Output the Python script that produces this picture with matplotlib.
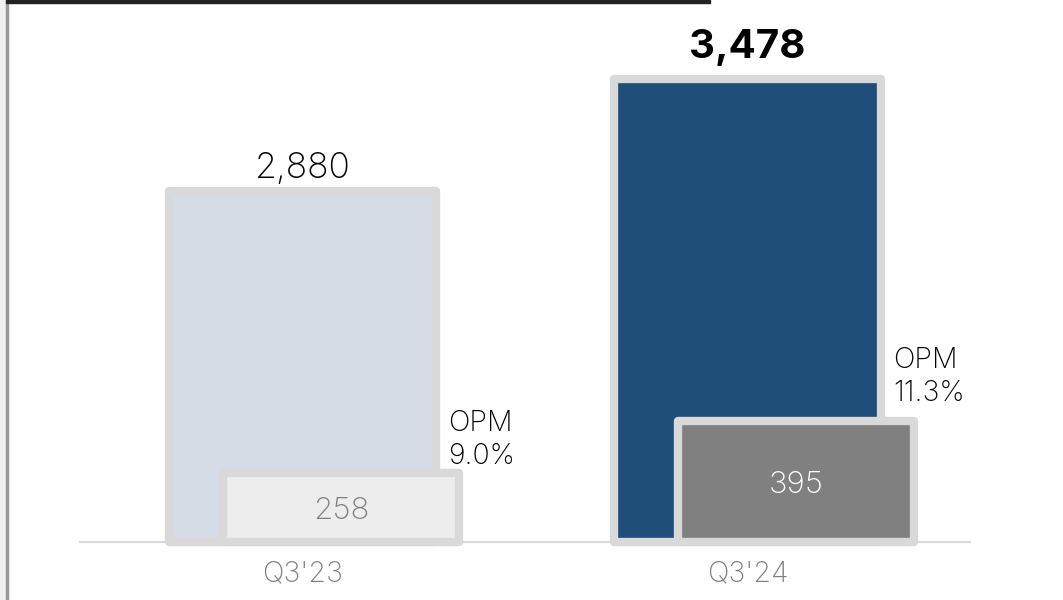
import matplotlib
matplotlib.use("Agg")
import matplotlib.pyplot as plt
from matplotlib.patches import Rectangle
import numpy as np

categories = ["Q3'23", "Q3'24"]
revenue = [2880, 3478]
op_profit = [258, 395]
opm_labels = ["OPM\n9.0%", "OPM\n11.3%"]
revenue_labels = ["2,880", "3,478"]
op_labels = ["258", "395"]

rev_colors = ["#D6DCE5", "#1F4E79"]
op_colors = ["#EDEDED", "#808080"]
op_text_colors = ["#808080", "#FFFFFF"]
edge = "#D9D9D9"

plt.rcParams['font.family'] = ['Inter', 'DejaVu Sans']

fig = plt.figure(figsize=(10.63, 6.0), dpi=100)
fig.patch.set_facecolor("white")

# decorations: left strip and top black bar
fig.add_artist(Rectangle((0, 0), 6/1063, 1, transform=fig.transFigure, color="#F0F0F0", zorder=0))
fig.add_artist(Rectangle((6/1063, 0), 1.5/1063, 1, transform=fig.transFigure, color="#9A9A9A", zorder=0))
fig.add_artist(Rectangle((6/1063, 1-3/600), 704/1063, 3/600, transform=fig.transFigure, color="#222222", zorder=5))

ax = fig.add_axes([80/1063, 58/600, 890/1063, 500/600])
ax2 = ax.twinx()

rev_base = 1000
op_base = 76
ax.set_ylim(rev_base, rev_base + 500/0.1867)
ax2.set_ylim(op_base, op_base + 500/0.378)
ax.set_xlim(-0.5, 1.5)

x = np.arange(len(categories))
w_rev = 0.6
w_op = 0.53
op_offsets = [0.087, 0.109]
opm_dy = [2.5, 10.5]

for i in range(len(categories)):
    ax.bar(x[i], revenue[i] - rev_base, bottom=rev_base, width=w_rev,
           color=rev_colors[i], edgecolor=edge, linewidth=6, joinstyle='round',
           clip_on=False, zorder=2)
    ax2.bar(x[i] + op_offsets[i], op_profit[i] - op_base, bottom=op_base, width=w_op,
            color=op_colors[i], edgecolor=edge, linewidth=6, joinstyle='round',
            clip_on=False, zorder=2)

for i in range(len(categories)):
    bold = (i == 1)
    ax.annotate(revenue_labels[i], (x[i], revenue[i]), xytext=(0, 15.5 if bold else 9.5),
                textcoords="offset points", ha="center", va="baseline",
                fontsize=29 if bold else 25.5, fontweight="bold" if bold else "light",
                color="black")
    ax2.text(x[i] + op_offsets[i], (op_profit[i] + op_base) / 2, op_labels[i],
             ha="center", va="center_baseline", fontsize=22.5, fontweight="light",
             color=op_text_colors[i], zorder=5)
    ax2.annotate(opm_labels[i], (x[i] + w_rev/2, op_profit[i]), xytext=(8.5, opm_dy[i]),
                 textcoords="offset points", ha="left", va="bottom",
                 fontsize=20.5, fontweight="light", color="black", linespacing=1.26)

for a in (ax, ax2):
    for s in a.spines.values():
        s.set_visible(False)
    a.set_yticks([])
ax.spines['bottom'].set_visible(True)
ax.spines['bottom'].set_color(edge)
ax.spines['bottom'].set_linewidth(1.5)
ax.spines['bottom'].set_zorder(1)
ax.set_xticks(x)
ax.set_xticklabels(categories, fontsize=20.5, fontweight="light", color="#7F7F7F")
ax.tick_params(axis='x', length=0, pad=13)
ax2.tick_params(axis='x', length=0)

fig.savefig("out.png", dpi=100)
